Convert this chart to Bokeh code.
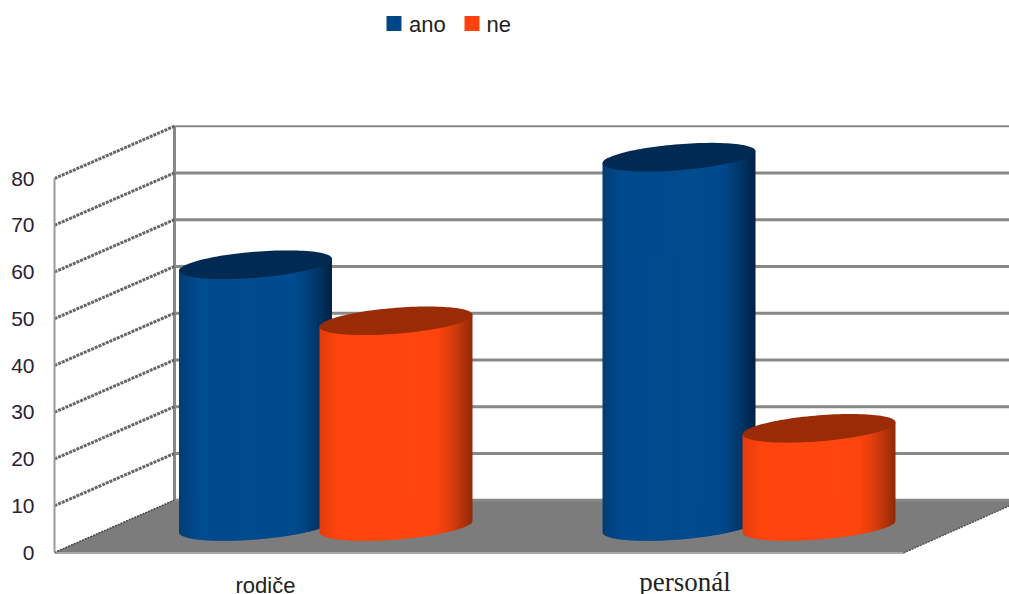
import math
from bokeh.core.properties import value
from bokeh.embed import file_html
from bokeh.models import FixedTicker, Range1d
from bokeh.plotting import figure
from bokeh.resources import INLINE

# Survey results per respondent group
categories = ["rodiče", "personál"]
series_names = ["ano", "ne"]
ano_values = [56, 79]
ne_values = [44, 21]
tick_values = [0, 10, 20, 30, 40, 50, 60, 70, 80]

# Colours for each series: body, lid and the shading stops across the cylinder
BLUE = dict(mid=(0, 74, 142), left=(0, 62, 116), right=(0, 33, 66), lid="#002a52", key="#004586")
ORANGE = dict(mid=(255, 69, 14), left=(226, 60, 12), right=(140, 42, 6), lid="#992c06", key="#ff420e")

# Pixel-based horizontal scale, value-based vertical scale
PX = 4.675                # pixels per value unit
AXIS_X, WALL_X = 54, 174  # front axis and back wall positions
DEPTH = 11.2              # height of the back wall's zero above the front zero
BASE = 5.56               # height of the cylinder floor centres
HALF_W = 76.5
LID_B = 13 / PX
LID_TILT = 6 / PX
FRONT_RIGHT_X = 903

p = figure(
    width=1009, height=594, output_backend="svg", toolbar_location=None,
    x_range=Range1d(AXIS_X, 1009), y_range=Range1d(-42 / PX, 552 / PX),
    min_border_left=AXIS_X, min_border_right=0, min_border_top=0, min_border_bottom=0,
    outline_line_color=None, x_axis_location=None,
)
p.grid.visible = False

# Front value axis
axis = p.yaxis[0]
axis.ticker = FixedTicker(ticks=tick_values)
axis.bounds = (0, 80)
axis.major_tick_line_color = None
axis.minor_tick_line_color = None
axis.axis_line_color = "#9a9a9a"
axis.axis_line_width = 2
axis.major_label_standoff = 14
axis.major_label_text_font = "Liberation Sans"
axis.major_label_text_font_size = "21px"
axis.major_label_text_color = "#2a2030"

# Floor of the box
p.patch([AXIS_X, WALL_X, 1009, 1009, FRONT_RIGHT_X], [0, DEPTH, DEPTH, 10, -0.1],
        fill_color="#7c7c7c", line_color=None)
p.segment([AXIS_X], [-0.1], [FRONT_RIGHT_X], [-0.1], line_color="#a8a8a8", line_width=2)
p.segment([FRONT_RIGHT_X], [-0.1], [1009], [10], line_color="#555555", line_width=1.5, line_dash="2 1")

# Back wall grid and the slanted side wall lines
wall = [v + DEPTH for v in tick_values]
p.segment([WALL_X] * 9, wall, [1009] * 9, wall, line_color="#888888",
          line_width=[3] * 8 + [2])
p.segment([WALL_X], [DEPTH], [WALL_X], [80 + DEPTH], line_color="#888888", line_width=3)
p.segment([AXIS_X], [0], [WALL_X], [DEPTH], line_color="#444444", line_width=1.5, line_dash="2 1")
p.segment([AXIS_X] * 8, tick_values[1:], [WALL_X] * 8, wall[1:], line_color="#666666",
          line_width=3, line_dash="3 1")


def shade(colors, u):
    """Colour of the cylinder surface at position u in [-1, 1]."""
    if u < -0.75:
        t = (u + 1) / 0.25
        a, b = colors["left"], colors["mid"]
    elif u < 0.5:
        t = 0
        a, b = colors["mid"], colors["mid"]
    else:
        t = ((u - 0.5) / 0.5) ** 1.4
        a, b = colors["mid"], colors["right"]
    return "#%02x%02x%02x" % tuple(round(a[i] + (b[i] - a[i]) * t) for i in range(3))


def cylinder(cx, amount, colors):
    """Draw one cylinder as shaded vertical strips plus a tilted lid."""
    top = BASE + amount
    steps = 76
    xs, ys, fills = [], [], []
    for i in range(steps):
        u0 = -1 + 2 * i / steps
        u1 = -1 + 2 * (i + 1) / steps
        grid = [u0 + (u1 - u0) * j / 3 for j in range(4)]
        lower = [BASE + LID_TILT * u - LID_B * math.sqrt(max(0, 1 - u * u)) for u in grid]
        upper = [top + LID_TILT * u for u in grid]
        left = [cx + HALF_W * u for u in grid]
        # the right edge overlaps the next strip so no seams show
        over = 0.8 if i < steps - 1 else 0
        xs.append(left[:-1] + [left[-1] + over, left[-1] + over] + left[-2::-1])
        ys.append(lower + upper[::-1])
        fills.append(shade(colors, (u0 + u1) / 2))
    p.patches(xs, ys, fill_color=fills, line_color=None)

    angle = [2 * math.pi * k / 120 for k in range(120)]
    p.patch([cx + HALF_W * math.cos(t) for t in angle],
            [top + LID_TILT * math.cos(t) + LID_B * math.sin(t) for t in angle],
            fill_color=colors["lid"], line_color=None)


for center, amount, colors in [(255, ano_values[0], BLUE), (395.5, ne_values[0], ORANGE),
                               (678.5, ano_values[1], BLUE), (818.5, ne_values[1], ORANGE)]:
    cylinder(center, amount, colors)

# Category labels
p.text([265], [-33 / PX], text=[categories[0]], text_font=value("Liberation Sans"), text_font_size="22px",
       text_align="center", text_baseline="middle", text_color="#222222")
p.text([684.5], [-29 / PX], text=[categories[1]], text_font=value("Liberation Serif"), text_font_size="27px",
       text_align="center", text_baseline="middle", text_color="#222222")

# Legend keys and names
key_y = 118.07 - 23 / PX
p.rect([393.5, 471.5], [key_y, key_y], width=15, height=15 / PX,
       fill_color=[BLUE["key"], ORANGE["key"]], line_color=None)
p.text([408.5, 486], [key_y - 1 / PX] * 2, text=series_names, text_font=value("Liberation Sans"),
       text_font_size="22px", text_baseline="alphabetic", text_color="#222222")

open("out.html", "w").write(file_html(p, INLINE))
